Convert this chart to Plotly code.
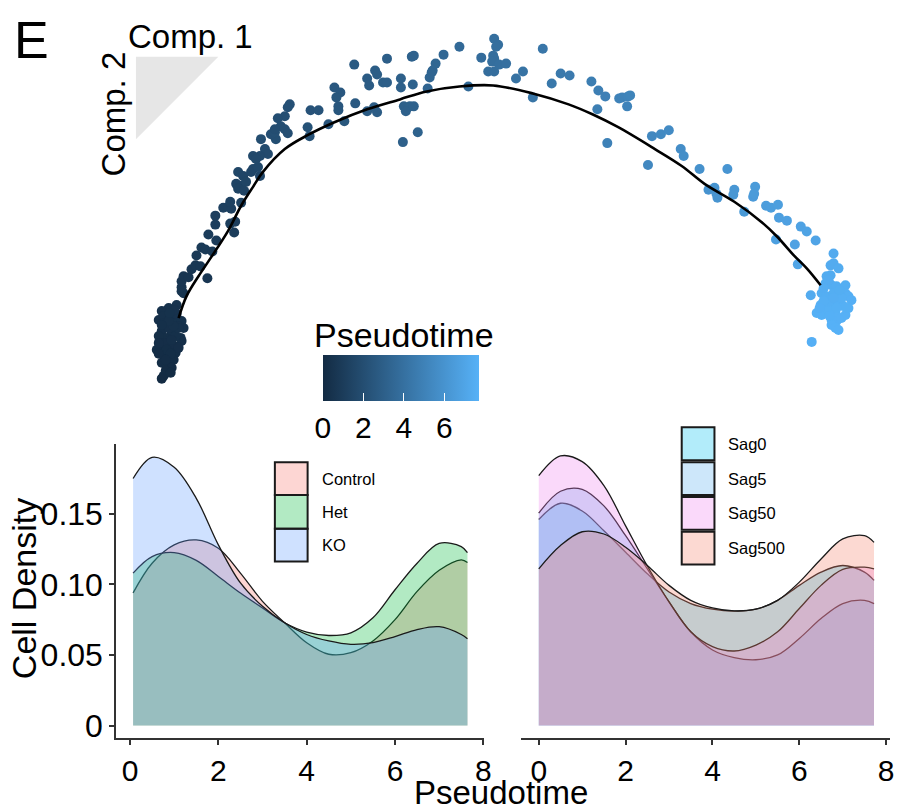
import plotly.graph_objects as go

W, H = 910, 812
FONT = "Liberation Sans, Arial, sans-serif"

# ---------------- top panel: cells in component space ----------------
cells = [
    # left cluster (root)
    (183,293,0.55),(178,307,0.45),(170,310,0.40),(163,313,0.35),(160,322,0.30),(175,322,0.38),
    (183,323,0.40),(185,330,0.35),(168,328,0.30),(163,333,0.25),(173,335,0.28),(182,340,0.27),
    (183,343,0.25),(167,340,0.22),(170,347,0.20),(162,350,0.18),(158,352,0.17),(175,348,0.20),
    (177,355,0.17),(165,357,0.15),(170,360,0.13),(175,362,0.12),(163,365,0.11),(168,368,0.09),
    (173,370,0.08),(167,373,0.06),(165,378,0.03),(163,381,0.00),(172,375,0.05),(165,318,0.35),
    (172,318,0.37),(178,316,0.42),(165,325,0.30),(180,328,0.36),(170,330,0.30),(160,338,0.22),
    (177,338,0.28),(166,345,0.20),(173,342,0.24),(160,345,0.20),(180,350,0.20),(168,352,0.17),
    (172,356,0.15),(160,356,0.14),(167,362,0.12),(180,330,0.36),(175,328,0.33),(170,323,0.33),
    (163,327,0.28),(176,312,0.43),(171,315,0.40),
    # lower arm
    (185,295,0.50),(183,289,0.55),(183,283,0.58),(185,278,0.60),(190,279,0.60),(193,271,0.66),
    (197,267,0.70),(202,268,0.70),(209,280,0.65),(198,257,0.78),(203,249,0.85),(207,251,0.84),
    (214,253,0.83),(210,236,0.97),(218,242,0.93),(217,226,1.05),(217,217,1.12),(236,234,1.00),
    (232,225,1.08),(237,223,1.10),(225,209,1.22),(230,208,1.23),(233,210,1.22),(232,203,1.27),
    (243,204,1.30),
    # middle arm
    (240,173,1.55),(245,177,1.52),(243,187,1.42),(248,183,1.47),(255,170,1.62),(253,173,1.58),
    (260,168,1.66),(262,177,1.58),(238,185,1.40),(240,190,1.37),(246,192,1.37),(267,150,1.85),
    (270,155,1.80),(262,157,1.74),(255,157,1.72),(258,160,1.70),(263,140,1.93),(278,140,2.00),
    (273,135,2.02),(277,133,2.05),
    # upper arm
    (292,105,2.15),(290,108,2.12),(287,117,2.05),(280,119,2.00),(283,127,2.00),(277,130,1.98),
    (287,130,2.00),(290,134,2.02),(313,111,2.25),(321,111,2.30),(310,128,2.22),(312,137,2.20),
    (331,125,2.38),
    # top
    (337,88,2.55),(343,93,2.55),(339,98,2.50),(341,107,2.48),(341,111,2.47),(347,122,2.50),
    (358,104,2.65),(357,65,2.70),(370,112,2.75),(377,108,2.82),(380,113,2.83),(378,71,2.85),
    (380,75,2.85),(370,79,2.77),(372,86,2.78),(386,83,2.92),(390,83,2.95),(390,59,2.95),
    (404,79,3.05),(404,88,3.05),(407,107,3.05),(413,107,3.10),(409,112,3.07),(417,107,3.12),
    (421,133,3.15),(406,143,3.05),(416,85,3.15),(415,57,3.15),(417,56,3.17),(431,89,3.30),
    (433,78,3.32),(435,73,3.33),(436,71,3.34),(439,64,3.37),(447,55,3.45),(463,47,3.58),
    (472,87,3.62),
    # peak
    (498,39,3.88),(502,45,3.90),(500,47,3.88),(485,58,3.75),(497,56,3.86),(498,59,3.87),
    (496,62,3.85),(492,72,3.82),(498,72,3.87),(503,65,3.92),(510,64,3.98),(520,79,4.08),
    (527,72,4.14),
    # right descent
    (547,49,4.32),(537,98,4.23),(556,84,4.40),(565,74,4.48),(574,76,4.56),(596,82,4.76),
    (603,91,4.82),(610,97,4.90),(602,110,4.80),(624,99,5.00),(627,98,5.02),(633,97,5.08),
    (635,96,5.10),(632,107,5.08),(612,144,4.95),(657,137,5.35),(666,135,5.45),(674,131,5.52),
    (653,166,5.35),(686,150,5.65),(689,157,5.68),(705,170,5.85),(733,170,6.10),(714,191,5.97),
    (720,189,6.02),(723,199,6.05),(722,195,6.04),(740,191,6.22),(739,196,6.21),(761,188,6.42),
    (759,198,6.40),(760,195,6.41),(750,213,6.35),(772,207,6.55),(777,209,6.60),(784,206,6.65),
    (785,219,6.68),(793,222,6.75),(807,228,6.85),(813,233,6.90),(822,242,6.98),(782,241,6.70),
    (801,246,6.85),(804,266,7.00),(840,255,7.30),(817,297,7.35),(818,344,7.60),
    # right cluster
    (837,267,7.35),(840,265,7.35),(845,270,7.40),(833,278,7.40),(837,277,7.40),(832,285,7.45),
    (838,287,7.45),(843,288,7.47),(852,287,7.50),(852,295,7.55),(855,298,7.58),(858,302,7.60),
    (828,295,7.50),(833,298,7.52),(840,295,7.50),(845,297,7.53),(827,307,7.58),(832,308,7.60),
    (838,305,7.58),(845,307,7.60),(850,308,7.62),(823,315,7.62),(828,317,7.64),(835,313,7.63),
    (842,315,7.65),(852,317,7.66),(838,322,7.66),(843,323,7.67),(848,320,7.66),(838,327,7.68),
    (842,330,7.69),(845,332,7.70),(835,282,7.43),(848,300,7.57),(830,303,7.56),(843,310,7.62),
    (836,318,7.64),(826,310,7.60),(855,310,7.63),(840,300,7.55),(846,292,7.50),(830,290,7.47),
]
comp1 = [c[0] for c in cells]
comp2 = [c[1] for c in cells]
pseudotime = [c[2] for c in cells]

traj_comp1 = [180,188,200,212,230,243,255,265,287,310,337,370,403,430,463,497,
              537,573,597,623,660,687,710,740,767,783,800,813,827]
traj_comp2 = [320,298,278,260,232,207,188,173,150,136,123,110,100,92,87,86,
              94,105,115,128,150,167,185,203,223,238,257,270,287]

# ---------------- bottom panels: densities ----------------
grid_geno = [0.07,0.5,1.0,1.5,2.0,2.5,3.0,3.5,4.0,4.5,5.0,5.5,6.0,6.5,7.0,7.5,7.64]
dens_control = [0.094,0.115,0.128,0.1315,0.1256,0.108,0.088,0.0728,0.0587,0.0505,0.0516,
                0.0599,0.075,0.095,0.110,0.1174,0.1155]
dens_het = [0.108,0.1197,0.1225,0.117,0.1056,0.0939,0.0833,0.0728,0.0662,0.0638,0.0657,
            0.0763,0.0962,0.115,0.129,0.1268,0.1225]
dens_ko = [0.175,0.190,0.183,0.161,0.128,0.101,0.0845,0.0728,0.0645,0.0599,0.0575,
           0.0587,0.063,0.068,0.070,0.0645,0.0615]

grid_sag = [0.0,0.5,1.0,1.5,2.0,2.5,3.0,3.5,4.0,4.5,5.0,5.5,6.0,6.5,7.0,7.5,7.72]
dens_sag0 = [0.146,0.1575,0.152,0.138,0.1228,0.1075,0.0946,0.0864,0.0824,0.081,0.0824,
             0.0887,0.0993,0.1087,0.1134,0.1087,0.1028]
dens_sag5 = [0.1505,0.166,0.1674,0.1556,0.1345,0.111,0.0876,0.0664,0.0535,0.0481,0.0466,
             0.05,0.0617,0.0758,0.0864,0.0887,0.0864]
dens_sag50 = [0.177,0.191,0.187,0.170,0.1415,0.113,0.0876,0.0664,0.0559,0.0528,0.057,
              0.0664,0.0829,0.0993,0.1106,0.1122,0.111]
dens_sag500 = [0.111,0.1275,0.1373,0.1357,0.1263,0.1134,0.0993,0.0887,0.0833,0.0812,0.0824,
               0.0887,0.1016,0.118,0.1322,0.1345,0.1298]

geno_names = ["Control", "Het", "KO"]
geno_colors = ["#F8766D", "#00BA38", "#619CFF"]
sag_names = ["Sag0", "Sag5", "Sag50", "Sag500"]
sag_colors = ["#00C0F0", "#5AAFF0", "#EE82EE", "#F4806A"]

x_ticks = [0, 2, 4, 6, 8]
y_ticks = [0, 0.05, 0.10, 0.15]
y_ticktext = ["0", "0.05", "0.10", "0.15"]
cbar_ticks = [0, 2, 4, 6]

ALPHA = 0.3


def rgba(hexc, a):
    h = hexc.lstrip("#")
    r, g, b = int(h[0:2], 16), int(h[2:4], 16), int(h[4:6], 16)
    return f"rgba({r},{g},{b},{a})"


def px(x):
    return x / W


def py(y):
    return 1 - y / H


fig = go.Figure()

# densities, left
for name, col, ys in zip(geno_names, geno_colors, [dens_control, dens_het, dens_ko]):
    fig.add_trace(go.Scatter(x=grid_geno, y=ys, mode="lines", name=name,
                             line=dict(color="#1a1a1a", width=1.3, shape="spline", smoothing=1.0),
                             fill="tozeroy", fillcolor=rgba(col, ALPHA),
                             xaxis="x", yaxis="y", showlegend=False, hoverinfo="skip"))
# densities, right
for name, col, ys in zip(sag_names, sag_colors, [dens_sag0, dens_sag5, dens_sag50, dens_sag500]):
    fig.add_trace(go.Scatter(x=grid_sag, y=ys, mode="lines", name=name,
                             line=dict(color="#1a1a1a", width=1.3, shape="spline", smoothing=1.0),
                             fill="tozeroy", fillcolor=rgba(col, ALPHA),
                             xaxis="x2", yaxis="y2", showlegend=False, hoverinfo="skip"))

# top scatter
fig.add_trace(go.Scatter(
    x=comp1, y=comp2, mode="markers", xaxis="x3", yaxis="y3", showlegend=False,
    marker=dict(size=10, color=pseudotime, cmin=0, cmax=7.7,
                colorscale=[[0, "#132B43"], [1, "#56B1F7"]],
                line=dict(width=0),
                colorbar=dict(orientation="h", x=px(404), xanchor="center",
                              y=py(357), yanchor="top",
                              len=156, lenmode="pixels", thickness=46,
                              outlinewidth=0, xpad=0, ypad=0,
                              tickvals=cbar_ticks, ticks="inside", ticklen=8,
                              tickcolor="white", tickwidth=1,
                              tickfont=dict(family=FONT, size=30, color="black"))),
))
fig.add_trace(go.Scatter(x=traj_comp1, y=traj_comp2, mode="lines", xaxis="x3", yaxis="y3",
                         line=dict(color="black", width=2.6, shape="spline"),
                         showlegend=False, hoverinfo="skip"))

axis_common = dict(showgrid=False, zeroline=False, linecolor="#333333", linewidth=1.6,
                   ticks="outside", ticklen=5, tickwidth=1.6, tickcolor="#333333")
xfont = dict(family=FONT, size=30, color="black")
yfont = dict(family=FONT, size=32, color="black")

fig.update_layout(
    width=W, height=H, margin=dict(l=0, r=0, t=0, b=0),
    paper_bgcolor="white", plot_bgcolor="rgba(0,0,0,0)",
    font=dict(family=FONT, color="black"),
    xaxis=dict(domain=[px(117), px(488)], anchor="y", range=[-0.315, 8.02],
               tickvals=x_ticks, showline=True, tickfont=xfont, **axis_common),
    yaxis=dict(domain=[py(743), py(447)], anchor="x", range=[-0.00915, 0.1993],
               tickvals=y_ticks, ticktext=y_ticktext, showline=True, tickfont=yfont,
               **axis_common),
    xaxis2=dict(domain=[px(525), px(897)], anchor="y2", range=[-0.41, 8.09],
                tickvals=x_ticks, showline=True, tickfont=xfont, **axis_common),
    yaxis2=dict(domain=[py(743), py(447)], anchor="x2", range=[-0.00915, 0.1993],
                visible=False),
    xaxis3=dict(domain=[0, 1], anchor="y3", range=[0, W], visible=False),
    yaxis3=dict(domain=[0, 1], anchor="x3", range=[H, 0], visible=False),
)

shapes = []
# orientation triangle
shapes.append(dict(type="path", xref="x3", yref="y3", path="M 137 57 L 220 57 L 137 140 Z",
                   fillcolor="#E6E6E6", line=dict(width=0), layer="below"))


def add_text(x, y, text, size, angle=0, xanchor="center"):
    fig.add_annotation(x=px(x), y=py(y), xref="paper", yref="paper", text=text,
                       showarrow=False, textangle=angle, xanchor=xanchor, yanchor="middle",
                       font=dict(family=FONT, size=size, color="black"))


# legend keys
def legend(names, colors, x0, x1, rows, tx):
    for name, col, (y0, y1) in zip(names, colors, rows):
        shapes.append(dict(type="rect", xref="paper", yref="paper",
                           x0=px(x0), x1=px(x1), y0=py(y1), y1=py(y0),
                           fillcolor=rgba(col, ALPHA), line=dict(color="#1a1a1a", width=2)))
        add_text(tx, (y0 + y1) / 2, name, 16.5, xanchor="left")


legend(geno_names, geno_colors, 277, 310, [(465, 498), (498, 532), (532, 565)], 322)
legend(sag_names, sag_colors, 687, 720, [(430, 463), (465, 498), (500, 533), (535, 568)], 732)

fig.update_layout(shapes=shapes)

# texts
add_text(32, 40, "E", 52)
add_text(192, 37, "Comp. 1", 33)
add_text(114, 115, "Comp. 2", 33, angle=-90)
add_text(25, 592, "Cell Density", 34, angle=-90)
add_text(505, 797, "Pseudotime", 33)
add_text(407, 337, "Pseudotime", 34)

fig.write_html("out.html")
